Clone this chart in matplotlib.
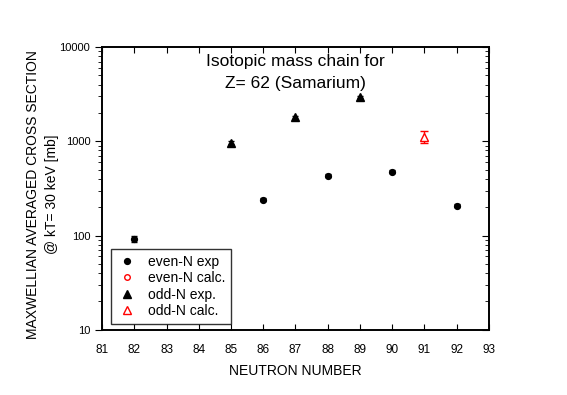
import numpy as np
import matplotlib.pyplot as plt
from matplotlib.ticker import LogLocator, NullFormatter, FixedLocator

plt.rcParams['font.family'] = ['Liberation Sans', 'DejaVu Sans']

# even-N experimental
even_n = [82, 86, 88, 90, 92]
even_sigma = [92, 240, 430, 475, 207]
even_err = [6, 10, 15, 15, 8]

# odd-N experimental
odd_n = [85, 87, 89]
odd_sigma = [970, 1800, 2950]
odd_err = [40, 60, 100]

# odd-N calculated
calc_n = [91]
calc_sigma = [1120]
calc_err_lo = [170]
calc_err_hi = [160]

x_ticks = list(range(81, 94))

fig = plt.figure(figsize=(5.67, 3.95), dpi=100)
ax = fig.add_axes([0.180, 0.165, 0.682, 0.716])

ax.errorbar(even_n, even_sigma, yerr=even_err, fmt='o', color='black',
            ms=4.2, capsize=2, elinewidth=1, capthick=1)
ax.errorbar(odd_n, odd_sigma, yerr=odd_err, fmt='^', color='black',
            ms=5.5, capsize=2, elinewidth=1, capthick=1)
ax.errorbar(calc_n, calc_sigma, yerr=[calc_err_lo, calc_err_hi], fmt='^',
            color='red', mfc='white', mec='red', ms=6, mew=1,
            capsize=3, elinewidth=1, capthick=1)

ax.set_yscale('log')
ax.set_xlim(81, 93)
ax.set_ylim(10, 10000)
ax.xaxis.set_major_locator(FixedLocator(x_ticks))
ax.set_xticklabels([str(t) for t in x_ticks])
ax.set_yticks([10, 100, 1000, 10000])
ax.set_yticklabels(['10', '100', '1000', '10000'])
ax.yaxis.set_minor_locator(LogLocator(base=10, subs=np.arange(2, 10)))
ax.yaxis.set_minor_formatter(NullFormatter())

ax.tick_params(axis='x', which='both', direction='in', top=True, length=4,
               labelsize=8.5, pad=10)
ax.tick_params(axis='y', which='major', direction='out', length=5, labelsize=8)
ax.tick_params(axis='y', which='minor', direction='out', length=3)

# right axis with inward ticks
ax2 = ax.twinx()
ax2.set_yscale('log')
ax2.set_ylim(10, 10000)
ax2.yaxis.set_minor_locator(LogLocator(base=10, subs=np.arange(2, 10)))
ax2.tick_params(axis='y', which='major', direction='in', length=5, labelright=False)
ax2.tick_params(axis='y', which='minor', direction='in', length=3, labelright=False)

for a in (ax, ax2):
    for s in a.spines.values():
        s.set_linewidth(1.2)

ax.set_xlabel('NEUTRON NUMBER', fontsize=10, labelpad=6)
ax.set_ylabel('MAXWELLIAN AVERAGED CROSS SECTION\n@ kT= 30 keV [mb]',
              fontsize=10, linespacing=1.4)
ax.yaxis.set_label_coords(-0.112, 0.48)

ax.text(0.5, 0.975, 'Isotopic mass chain for\nZ= 62 (Samarium)',
        transform=ax.transAxes, ha='center', va='top', fontsize=12.5,
        linespacing=1.6)

h1 = ax.plot([], [], 'o', color='black', ms=4.2)[0]
h2 = ax.plot([], [], 'o', mfc='white', mec='red', ms=4, mew=1)[0]
h3 = ax.plot([], [], '^', color='black', ms=5.5)[0]
h4 = ax.plot([], [], '^', mfc='white', mec='red', ms=6, mew=1)[0]
leg = ax.legend([h1, h2, h3, h4],
                ['even-N exp', 'even-N calc.', 'odd-N exp.', 'odd-N calc.'],
                loc='lower left', bbox_to_anchor=(0.023, 0.021),
                borderaxespad=0, fontsize=10, frameon=True, fancybox=False,
                handlelength=1.5, handletextpad=0.8, borderpad=0.4,
                labelspacing=0.18)
leg.get_frame().set_edgecolor('black')
leg.get_frame().set_linewidth(1)

fig.savefig('out.png', dpi=100)
